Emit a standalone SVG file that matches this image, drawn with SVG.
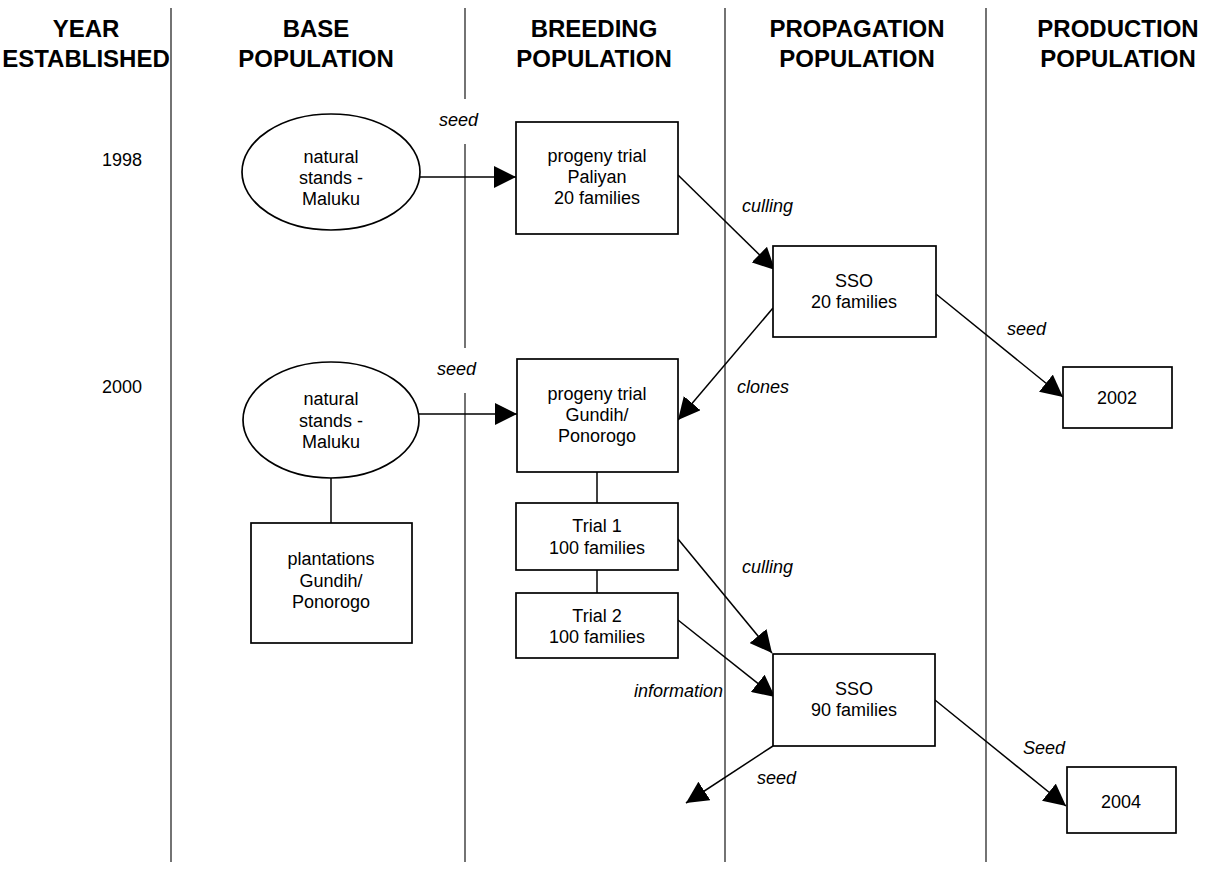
<svg xmlns="http://www.w3.org/2000/svg" width="1218" height="877" viewBox="0 0 1218 877">
<style>
text{font-family:"Liberation Sans",Arial,sans-serif;fill:#000}
.h{font-size:24px;font-weight:bold;text-anchor:middle}
.t{font-size:18px;text-anchor:middle}
.l{font-size:18px;font-style:italic}
.n{fill:#fff;stroke:#000;stroke-width:1.7}
.c{stroke:#000;stroke-width:1.5;fill:none}
.col{stroke:#000;stroke-width:1.1}
</style>
<defs>
<marker id="ah" markerUnits="userSpaceOnUse" markerWidth="22" markerHeight="22" refX="21" refY="10.5" orient="auto" viewBox="0 0 21 21">
<path d="M0,0 L21,10.5 L0,21 z" fill="#000"/>
</marker>
</defs>
<rect width="1218" height="877" fill="#fff"/>
<g id="columns">
<line class="col" x1="171" y1="8" x2="171" y2="862"/>
<line class="col" x1="465" y1="8" x2="465" y2="99"/>
<line class="col" x1="465" y1="144" x2="465" y2="348"/>
<line class="col" x1="465" y1="393" x2="465" y2="862"/>
<line class="col" x1="725" y1="8" x2="725" y2="862"/>
<line class="col" x1="986" y1="8" x2="986" y2="862"/>
</g>
<g id="headers">
<text class="h" x="86" y="37">YEAR</text>
<text class="h" x="86" y="67">ESTABLISHED</text>
<text class="h" x="316" y="37">BASE</text>
<text class="h" x="316" y="67">POPULATION</text>
<text class="h" x="594" y="37">BREEDING</text>
<text class="h" x="594" y="67">POPULATION</text>
<text class="h" x="857" y="37">PROPAGATION</text>
<text class="h" x="857" y="67">POPULATION</text>
<text class="h" x="1118" y="37">PRODUCTION</text>
<text class="h" x="1118" y="67">POPULATION</text>
</g>
<g id="years">
<text class="t" x="122" y="166">1998</text>
<text class="t" x="122" y="393">2000</text>
</g>
<g id="connectors">
<line class="c" x1="420" y1="177" x2="516" y2="177" marker-end="url(#ah)"/>
<line class="c" x1="678" y1="175" x2="775" y2="270" marker-end="url(#ah)"/>
<line class="c" x1="773" y1="308" x2="678" y2="420" marker-end="url(#ah)"/>
<line class="c" x1="936" y1="294" x2="1063" y2="397" marker-end="url(#ah)"/>
<line class="c" x1="419" y1="414" x2="517" y2="414" marker-end="url(#ah)"/>
<line class="c" x1="331" y1="478" x2="331" y2="523"/>
<line class="c" x1="597" y1="472" x2="597" y2="503"/>
<line class="c" x1="597" y1="570" x2="597" y2="593"/>
<line class="c" x1="678" y1="539" x2="772" y2="653" marker-end="url(#ah)"/>
<line class="c" x1="678" y1="620" x2="775" y2="697" marker-end="url(#ah)"/>
<line class="c" x1="773" y1="746" x2="686" y2="803" marker-end="url(#ah)"/>
<line class="c" x1="935" y1="700" x2="1066" y2="806" marker-end="url(#ah)"/>
<text class="l" x="439" y="126">seed</text>
<text class="l" x="742" y="212">culling</text>
<text class="l" x="737" y="393">clones</text>
<text class="l" x="1007" y="335">seed</text>
<text class="l" x="437" y="375">seed</text>
<text class="l" x="742" y="573">culling</text>
<text class="l" x="723" y="697" text-anchor="end">information</text>
<text class="l" x="757" y="784">seed</text>
<text class="l" x="1023" y="754">Seed</text>
</g>
<g id="natural-stands-1998">
<ellipse class="n" cx="331" cy="172" rx="89" ry="58"/>
<text class="t" x="331" y="163">natural</text>
<text class="t" x="331" y="184">stands -</text>
<text class="t" x="331" y="205">Maluku</text>
</g>
<g id="progeny-paliyan">
<rect class="n" x="516" y="122" width="162" height="112"/>
<text class="t" x="597" y="162">progeny trial</text>
<text class="t" x="597" y="183">Paliyan</text>
<text class="t" x="597" y="204">20 families</text>
</g>
<g id="sso-20">
<rect class="n" x="773" y="246" width="163" height="91"/>
<text class="t" x="854" y="287">SSO</text>
<text class="t" x="854" y="308">20 families</text>
</g>
<g id="prod-2002">
<rect class="n" x="1063" y="367" width="109" height="61"/>
<text class="t" x="1117" y="404">2002</text>
</g>
<g id="natural-stands-2000">
<ellipse class="n" cx="331" cy="420" rx="88" ry="58"/>
<text class="t" x="331" y="405">natural</text>
<text class="t" x="331" y="427">stands -</text>
<text class="t" x="331" y="448">Maluku</text>
</g>
<g id="plantations">
<rect class="n" x="251" y="523" width="161" height="120"/>
<text class="t" x="331" y="565">plantations</text>
<text class="t" x="331" y="587">Gundih/</text>
<text class="t" x="331" y="608">Ponorogo</text>
</g>
<g id="progeny-gundih">
<rect class="n" x="517" y="359" width="161" height="113"/>
<text class="t" x="597" y="400">progeny trial</text>
<text class="t" x="597" y="421">Gundih/</text>
<text class="t" x="597" y="442">Ponorogo</text>
</g>
<g id="trial-1">
<rect class="n" x="516" y="503" width="162" height="67"/>
<text class="t" x="597" y="532">Trial 1</text>
<text class="t" x="597" y="554">100 families</text>
</g>
<g id="trial-2">
<rect class="n" x="516" y="593" width="162" height="65"/>
<text class="t" x="597" y="622">Trial 2</text>
<text class="t" x="597" y="643">100 families</text>
</g>
<g id="sso-90">
<rect class="n" x="773" y="654" width="162" height="92"/>
<text class="t" x="854" y="695">SSO</text>
<text class="t" x="854" y="716">90 families</text>
</g>
<g id="prod-2004">
<rect class="n" x="1067" y="767" width="109" height="66"/>
<text class="t" x="1121" y="808">2004</text>
</g>
</svg>
